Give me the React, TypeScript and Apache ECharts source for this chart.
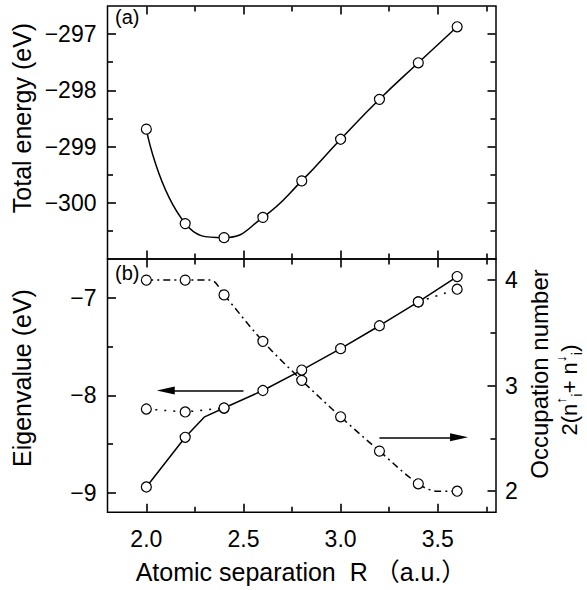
import React, { useEffect, useRef } from "react";
import * as echarts from "echarts";

// ---------- data ----------
const R = [2.0, 2.2, 2.4, 2.6, 2.8, 3.0, 3.2, 3.4, 3.6];
const totalEnergy = [-298.69, -300.37, -300.62, -300.26, -299.61, -298.87, -298.16, -297.51, -296.87];

const eigenR = [2.0, 2.2, 2.3, 2.4, 2.6, 2.8, 3.0, 3.2, 3.4, 3.6];
const eigenSolid = [-8.94, -8.43, -8.22, -8.13, -7.95, -7.74, -7.52, -7.285, -7.04, -6.78];
const eigenSolidMarked = [true, true, false, true, true, true, true, true, true, true];

const eigenDotLowR = [2.0, 2.2, 2.4];
const eigenDotLow = [-8.14, -8.17, -8.13];
const eigenDotHighR = [3.4, 3.6];
const eigenDotHigh = [-7.04, -6.91];

const occR = [2.0, 2.2, 2.33, 2.4, 2.6, 2.8, 3.0, 3.2, 3.4, 3.5, 3.6];
const occ = [4.0, 4.0, 4.0, 3.86, 3.42, 3.05, 2.705, 2.38, 2.07, 2.0, 2.0];
const occMarked = [true, true, false, true, true, true, true, true, true, false, true];

const leftArrowR = [2.5, 2.1];
const leftArrowE = -7.95;
const rightArrowR = [3.2, 3.61];
const rightArrowOcc = 2.51;

// axis ranges and ticks
const X_MIN = 1.8;
const X_MAX = 3.8;
const xMajor = [2.0, 2.5, 3.0, 3.5];
const xMinor = [2.25, 2.75, 3.25, 3.75];
const xLabels = [2.0, 2.5, 3.0, 3.5];

const E_MIN = -301;
const E_MAX = -296.5;
const eMajor = [-300, -299, -298, -297];
const eMinor = [-300.5, -299.5, -298.5, -297.5];

const EV_MIN = -9.2;
const EV_MAX = -6.6;
const evMajor = [-9, -8, -7];
const evMinor = [-8.5, -7.5];

const OCC_MIN = 1.8;
const OCC_MAX = 4.2;
const occMajor = [2, 3, 4];
const occMinor = [2.5, 3.5];

// layout
const GRID_LEFT = 107.5;
const GRID_RIGHT = 91;
const GRID_W = 587 - GRID_LEFT - GRID_RIGHT;
const TOP_H = 253;
const BOT_H = 253.3;

const FONT = "'Liberation Sans', Arial, Helvetica, sans-serif";
const MAJOR_LEN = 8;
const MINOR_LEN = 5;
const TICK_W = 1.6;
const INSET = 0.5; // px: tick starts just inside the frame line

const fmtNum = (v: number) => (v < 0 ? "\u2212" + Math.abs(v) : String(v));
const fmtX = (v: number) => v.toFixed(1);

function axis(
  grid: number,
  position: string,
  min: number,
  max: number,
  labels?: number[],
  fmt?: (v: number) => string,
  margin?: number
) {
  return {
    type: "value",
    gridIndex: grid,
    position,
    min,
    max,
    axisLine: { show: false },
    splitLine: { show: false },
    axisTick: { show: false },
    axisLabel: labels
      ? {
          show: true,
          customValues: labels,
          formatter: fmt,
          margin,
          color: "#000",
          fontSize: 23,
          fontFamily: FONT,
        }
      : { show: false },
  };
}

// frame ticks as markLine segments, starting just inside the frame
function xTickLines(yLo: number, yHi: number, hPx: number) {
  const upp = (yHi - yLo) / hPx;
  const out: any[] = [];
  const add = (v: number, len: number) => {
    out.push([{ coord: [v, yLo + INSET * upp] }, { coord: [v, yLo + (INSET + len) * upp] }]);
    out.push([{ coord: [v, yHi - INSET * upp] }, { coord: [v, yHi - (INSET + len) * upp] }]);
  };
  xMajor.forEach((v) => add(v, MAJOR_LEN));
  xMinor.forEach((v) => add(v, MINOR_LEN));
  return out;
}
function yTickLines(major: number[], minor: number[], xEdge: number, dir: number) {
  const upp = (X_MAX - X_MIN) / GRID_W;
  const out: any[] = [];
  const add = (v: number, len: number) =>
    out.push([{ coord: [xEdge + dir * INSET * upp, v] }, { coord: [xEdge + dir * (INSET + len) * upp, v] }]);
  major.forEach((v) => add(v, MAJOR_LEN));
  minor.forEach((v) => add(v, MINOR_LEN));
  return out;
}
function tickMarkLine(data: any[]) {
  return {
    silent: true,
    symbol: ["none", "none"],
    symbolSize: 0,
    lineStyle: { color: "#000", width: TICK_W, type: "solid" },
    label: { show: false },
    data,
  };
}

const circleStyle = { color: "#fff", borderColor: "#000", borderWidth: 1.2 };

export default function App() {
  const ref = useRef<HTMLDivElement>(null);

  useEffect(() => {
    if (!ref.current) return;
    const chart = echarts.init(ref.current, undefined, { renderer: "svg" });

    const option: any = {
      animation: false,
      backgroundColor: "#fff",
      grid: [
        { left: GRID_LEFT, right: GRID_RIGHT, top: 6, height: TOP_H, show: true, borderColor: "#000", borderWidth: 1.5, backgroundColor: "transparent" },
        { left: GRID_LEFT, right: GRID_RIGHT, top: 6 + TOP_H, height: BOT_H, show: true, borderColor: "#000", borderWidth: 1.5, backgroundColor: "transparent" },
      ],
      xAxis: [
        axis(0, "bottom", X_MIN, X_MAX),
        axis(1, "bottom", X_MIN, X_MAX, xLabels, fmtX, 15),
      ],
      yAxis: [
        axis(0, "left", E_MIN, E_MAX, eMajor, fmtNum, 11),
        axis(1, "left", EV_MIN, EV_MAX, evMajor, fmtNum, 11),
        axis(1, "right", OCC_MIN, OCC_MAX, occMajor, fmtNum, 9),
      ],
      series: [
        {
          type: "line",
          xAxisIndex: 0,
          yAxisIndex: 0,
          smooth: 0.5,
          symbol: "circle",
          symbolSize: 10,
          itemStyle: circleStyle,
          lineStyle: { color: "#000", width: 1.5 },
          data: R.map((r, i) => [r, totalEnergy[i]]),
          markLine: tickMarkLine([
            ...xTickLines(E_MIN, E_MAX, TOP_H),
            ...yTickLines(eMajor, eMinor, X_MIN, 1),
            ...yTickLines(eMajor, eMinor, X_MAX, -1),
          ]),
          z: 3,
        },
        {
          type: "line",
          xAxisIndex: 1,
          yAxisIndex: 1,
          symbol: "circle",
          symbolSize: 10,
          itemStyle: circleStyle,
          lineStyle: { color: "#000", width: 1.5, type: [2, 7] },
          data: eigenDotLowR.map((r, i) => [r, eigenDotLow[i]]),
          markLine: tickMarkLine([
            ...xTickLines(EV_MIN, EV_MAX, BOT_H),
            ...yTickLines(evMajor, evMinor, X_MIN, 1),
          ]),
          z: 2,
        },
        {
          type: "line",
          xAxisIndex: 1,
          yAxisIndex: 1,
          symbol: "circle",
          symbolSize: 10,
          itemStyle: circleStyle,
          lineStyle: { color: "#000", width: 1.5, type: [2, 7] },
          data: eigenDotHighR.map((r, i) => [r, eigenDotHigh[i]]),
          z: 2,
        },
        {
          type: "line",
          xAxisIndex: 1,
          yAxisIndex: 2,
          smooth: 0.35,
          symbol: "circle",
          symbolSize: 10,
          itemStyle: circleStyle,
          lineStyle: { color: "#000", width: 1.5, type: [7, 4, 2, 4] },
          data: occR.map((r, i) => ({ value: [r, occ[i]], symbol: occMarked[i] ? "circle" : "none" })),
          markLine: {
            silent: true,
            symbol: ["none", "triangle"],
            symbolSize: [8, 18],
            lineStyle: { color: "#000", width: 1.5, type: "solid" },
            label: { show: false },
            data: [[{ coord: [rightArrowR[0], rightArrowOcc] }, { coord: [rightArrowR[1], rightArrowOcc] }]],
          },
          z: 2,
        },
        {
          type: "line",
          xAxisIndex: 1,
          yAxisIndex: 2,
          symbol: "none",
          lineStyle: { color: "#000", width: 0, opacity: 0 },
          data: occR.map((r, i) => [r, occ[i]]),
          markLine: tickMarkLine(yTickLines(occMajor, occMinor, X_MAX, -1)),
          z: 2,
        },
        {
          type: "line",
          xAxisIndex: 1,
          yAxisIndex: 1,
          symbol: "circle",
          symbolSize: 10,
          itemStyle: circleStyle,
          lineStyle: { color: "#000", width: 1.5 },
          data: eigenR.map((r, i) => ({ value: [r, eigenSolid[i]], symbol: eigenSolidMarked[i] ? "circle" : "none" })),
          markLine: {
            silent: true,
            symbol: ["none", "triangle"],
            symbolSize: [8, 18],
            lineStyle: { color: "#000", width: 1.5, type: "solid" },
            label: { show: false },
            data: [[{ coord: [leftArrowR[0], leftArrowE] }, { coord: [leftArrowR[1], leftArrowE] }]],
          },
          z: 3,
        },
      ],
      graphic: [
        { type: "text", x: 115, y: 7, style: { text: "(a)", fontSize: 20, fontFamily: FONT, fill: "#000" } },
        { type: "text", x: 115, y: 263, style: { text: "(b)", fontSize: 20, fontFamily: FONT, fill: "#000" } },
        {
          type: "text", x: 22, y: 118, rotation: Math.PI / 2,
          style: { text: "Total energy (eV)", fontSize: 25, fontFamily: FONT, fill: "#000", align: "center", verticalAlign: "middle" },
        },
        {
          type: "text", x: 22, y: 378, rotation: Math.PI / 2,
          style: { text: "Eigenvalue (eV)", fontSize: 25, fontFamily: FONT, fill: "#000", align: "center", verticalAlign: "middle" },
        },
        {
          type: "text", x: 539, y: 374, rotation: Math.PI / 2,
          style: { text: "Occupation number", fontSize: 24, fontFamily: FONT, fill: "#000", align: "center", verticalAlign: "middle" },
        },
        {
          type: "text", x: 569, y: 390, rotation: Math.PI / 2,
          style: {
            text: "2(n{st|\u2191}{sb|i}+ n{st|\u2193}{sb|i})",
            fontSize: 22, fontFamily: FONT, fill: "#000", align: "center", verticalAlign: "middle",
            rich: {
              st: { fontSize: 14, fontFamily: FONT, fill: "#000", verticalAlign: "top", lineHeight: 30 },
              sb: { fontSize: 15, fontFamily: FONT, fill: "#000", verticalAlign: "bottom", lineHeight: 30 },
            },
          },
        },
        {
          type: "text", x: 301, y: 572,
          style: {
            text: "Atomic separation  R \uFF08a.u.\uFF09",
            fontSize: 25, fontFamily: "'Liberation Sans', Arial, 'Noto Sans CJK JP', sans-serif", fill: "#000",
            align: "center", verticalAlign: "middle",
          },
        },
      ],
    };

    chart.setOption(option);
    return () => chart.dispose();
  }, []);

  return (
    <div
      ref={ref}
      style={{ position: "fixed", left: 0, top: 0, width: 587, height: 590, background: "#fff" }}
    />
  );
}
